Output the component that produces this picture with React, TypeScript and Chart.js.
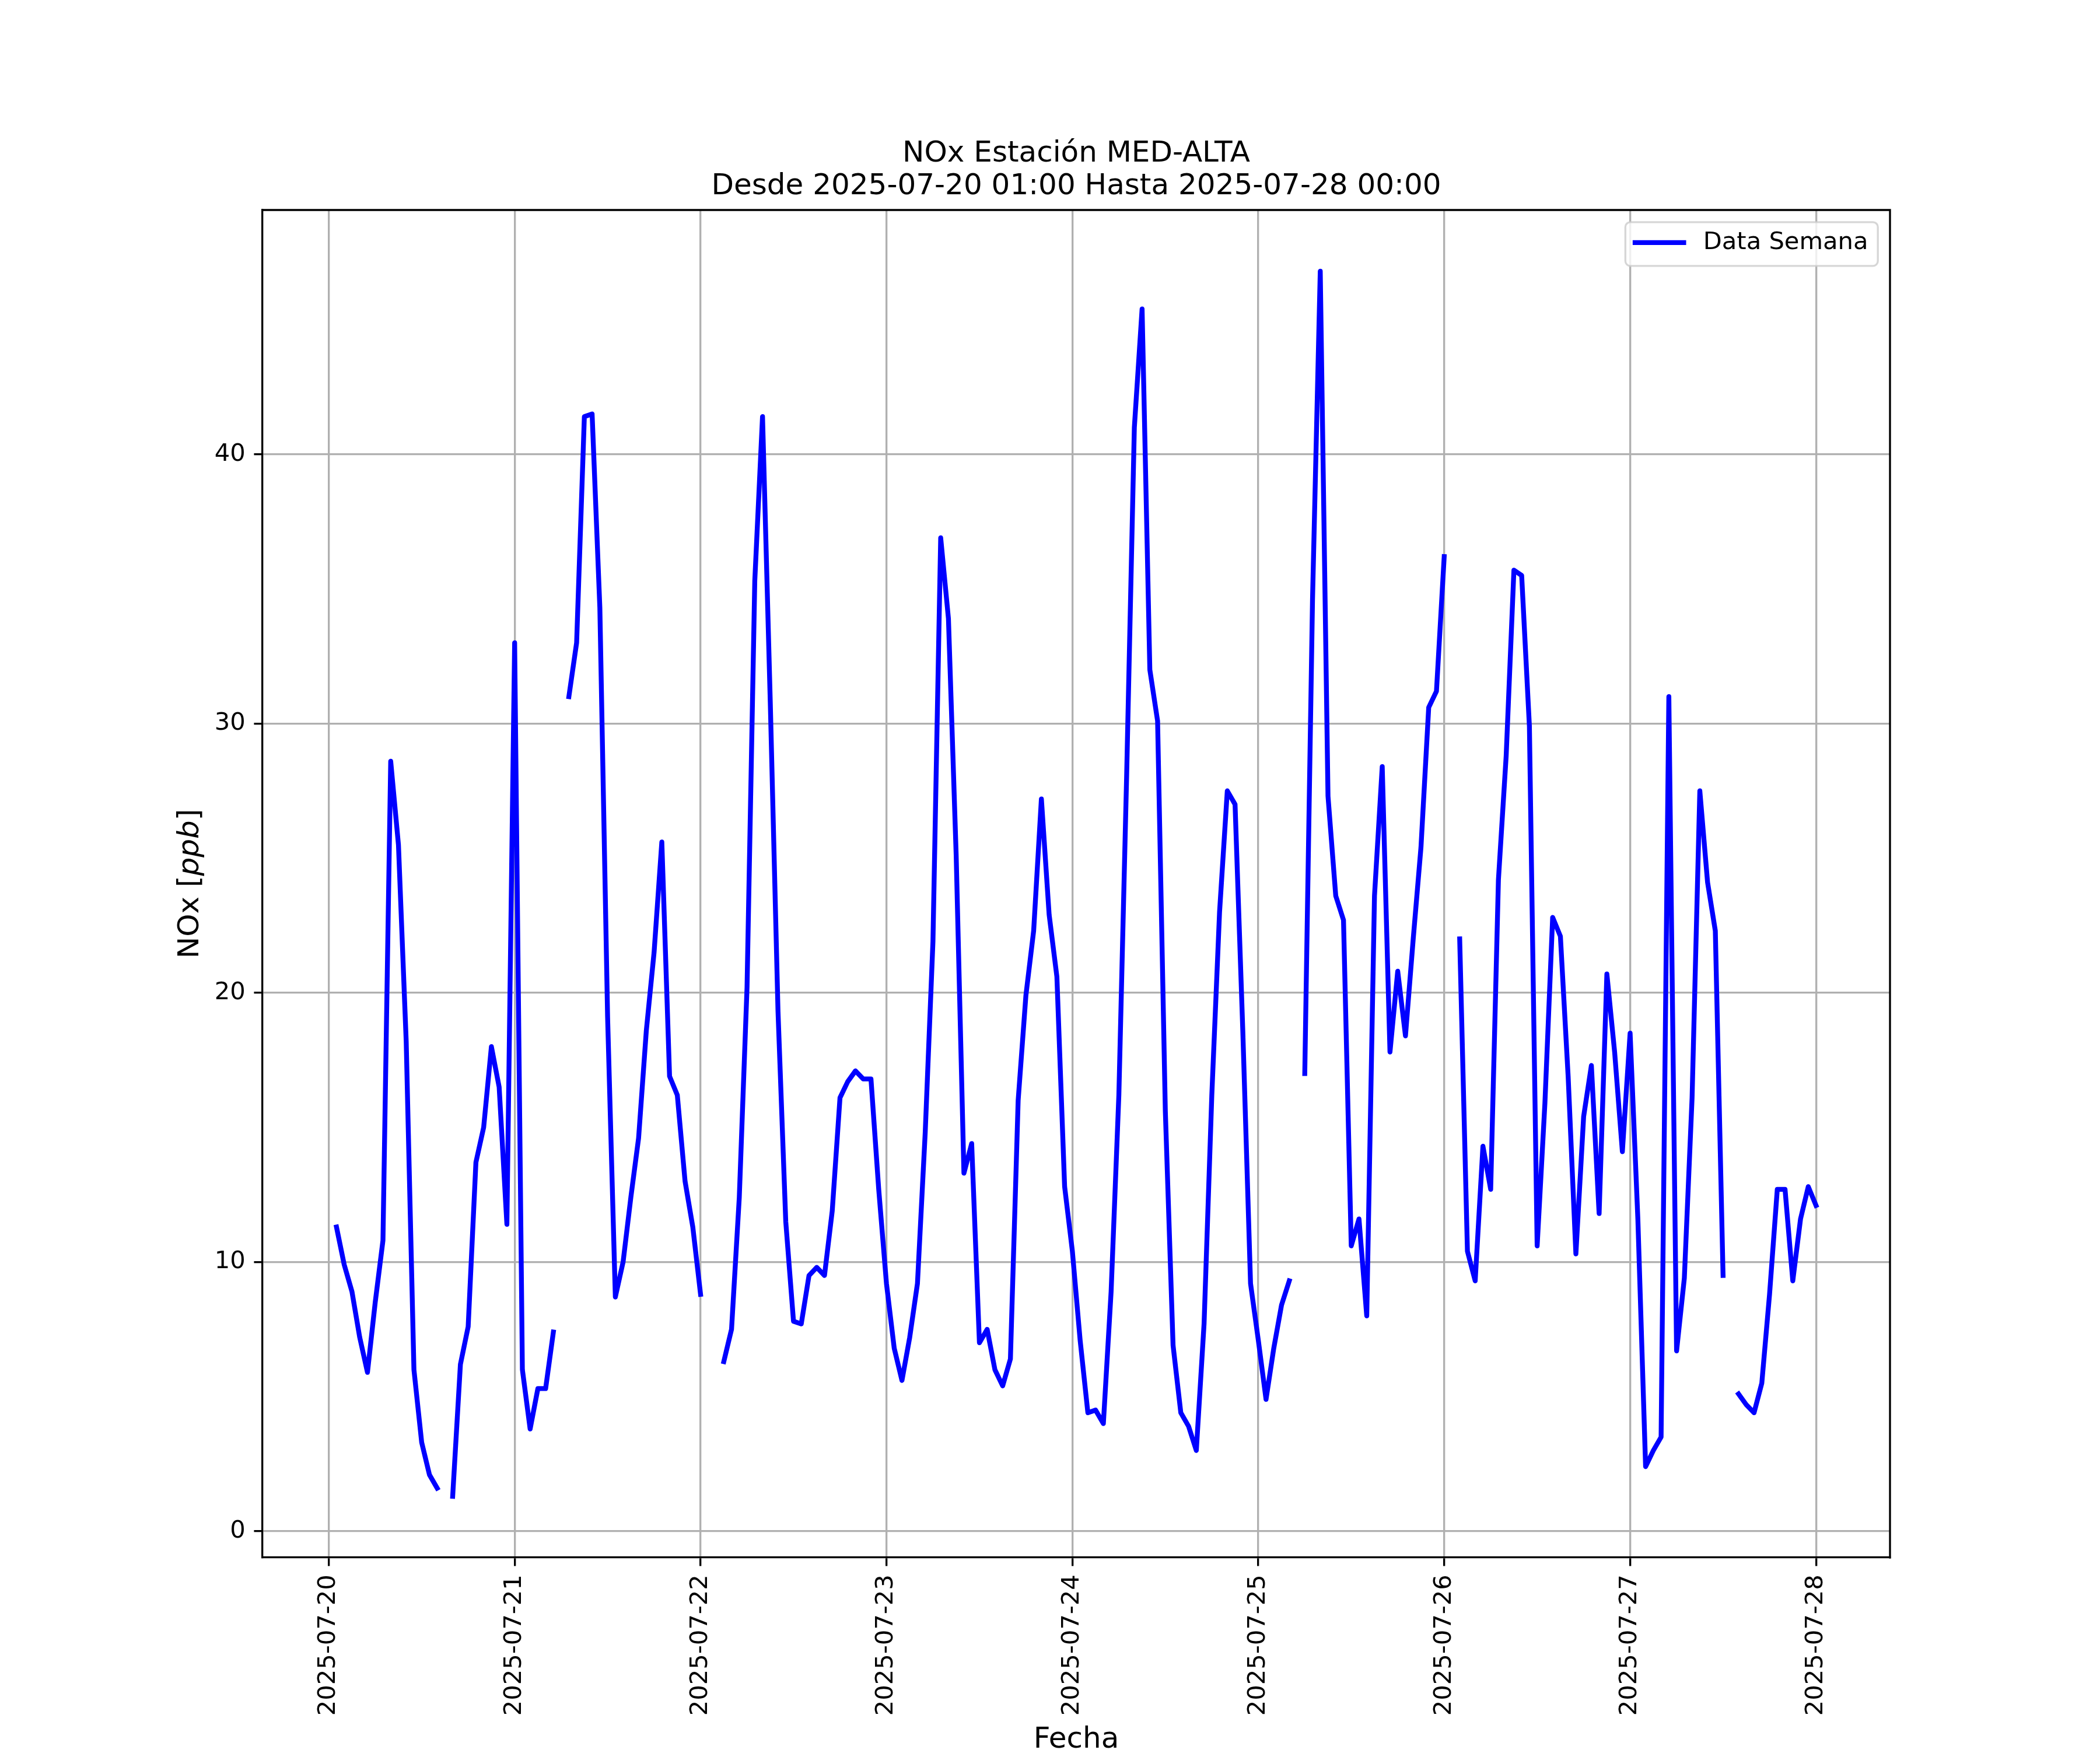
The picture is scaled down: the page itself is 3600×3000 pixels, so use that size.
import React, { useEffect, useRef } from 'react';
import { Chart, registerables } from 'chart.js';

Chart.register(...registerables);

// ---------- data ----------
const chartTitle = ['NOx Estación MED-ALTA', 'Desde 2025-07-20 01:00 Hasta 2025-07-28 00:00'];
const seriesLabel = 'Data Semana';
const xAxisTitle = 'Fecha';
const yAxisTitleParts = [
  { text: 'NOx [', italic: false },
  { text: 'ppb', italic: true },
  { text: ']', italic: false },
];

// hourly values, first one at 2025-07-20 01:00 (hour 1 after 2025-07-20 00:00)
const firstHour = 1;
const noxPpb: (number | null)[] = [
  11.3, 9.9, 8.9, 7.2, 5.9, 8.5, 10.8, 28.6, 25.5, 18.2, 6.0, 3.3,
  2.1, 1.6, null, 1.3, 6.2, 7.6, 13.7, 15.0, 18.0, 16.5, 11.4, 33.0,
  6.0, 3.8, 5.3, 5.3, 7.4, null, 31.0, 33.0, 41.4, 41.5, 34.3, 19.1,
  8.7, 10.0, 12.4, 14.6, 18.6, 21.5, 25.6, 16.9, 16.2, 13.0, 11.3, 8.8,
  null, null, 6.3, 7.5, 12.4, 20.2, 35.3, 41.4, 30.8, 19.3, 11.5, 7.8,
  7.7, 9.5, 9.8, 9.5, 11.9, 16.1, 16.7, 17.1, 16.8, 16.8, 12.7, 9.2,
  6.8, 5.6, 7.2, 9.2, 14.8, 21.9, 36.9, 33.9, 25.1, 13.3, 14.4, 7.0,
  7.5, 6.0, 5.4, 6.4, 16.0, 19.9, 22.3, 27.2, 22.9, 20.6, 12.8, 10.4,
  7.1, 4.4, 4.5, 4.0, 8.9, 16.2, 28.0, 41.0, 45.4, 32.0, 30.1, 15.6,
  6.9, 4.4, 3.9, 3.0, 7.7, 16.2, 23.0, 27.5, 27.0, 18.6, 9.2, 7.1,
  4.9, 6.8, 8.4, 9.3, null, 17.0, 34.6, 46.8, 27.3, 23.6, 22.7, 10.6,
  11.6, 8.0, 23.6, 28.4, 17.8, 20.8, 18.4, 22.0, 25.4, 30.6, 31.2, 36.2,
  null, 22.0, 10.4, 9.3, 14.3, 12.7, 24.2, 28.8, 35.7, 35.5, 29.9, 10.6,
  15.9, 22.8, 22.1, 16.9, 10.3, 15.4, 17.3, 11.8, 20.7, 17.8, 14.1, 18.5,
  11.6, 2.4, 3.0, 3.5, 31.0, 6.7, 9.4, 16.1, 27.5, 24.1, 22.3, 9.5,
  null, 5.1, 4.7, 4.4, 5.5, 8.8, 12.7, 12.7, 9.3, 11.6, 12.8, 12.1,
];

const dateTickLabels = [
  '2025-07-20', '2025-07-21', '2025-07-22', '2025-07-23', '2025-07-24',
  '2025-07-25', '2025-07-26', '2025-07-27', '2025-07-28',
];
const yTickValues = [0, 10, 20, 30, 40];

// ---------- styling ----------
const FONT = '"DejaVu Sans"';
const PT = 300 / 72; // px per point at 300 dpi

const frameSpinesPlugin = {
  id: 'frameSpines',
  afterDatasetsDraw(chart: any) {
    const { ctx, chartArea } = chart;
    const { left, right, top, bottom } = chartArea;
    ctx.save();
    ctx.strokeStyle = '#000000';
    ctx.lineWidth = 0.8 * PT;
    ctx.lineCap = 'square';
    ctx.beginPath();
    ctx.moveTo(left, top);
    ctx.lineTo(right, top);
    ctx.lineTo(right, bottom);
    ctx.stroke();
    ctx.restore();
  },
};

const legendBoxPlugin = {
  id: 'legendBox',
  afterDraw(chart: any) {
    const { ctx, chartArea } = chart;
    const ds = chart.data.datasets[0];
    const fs = 10 * PT;
    ctx.save();
    ctx.font = `${fs}px ${FONT}`;
    const tw = ctx.measureText(ds.label).width;
    const pad = 0.4 * fs;
    const handle = 2.0 * fs;
    const gap = 0.8 * fs;
    const axPad = 0.5 * fs;
    const w = pad + handle + gap + tw + pad;
    const h = 75;
    const right = chartArea.right - axPad;
    const top = chartArea.top + axPad;
    const left = right - w;
    ctx.beginPath();
    ctx.roundRect(left, top, w, h, 0.2 * fs);
    ctx.fillStyle = 'rgba(255,255,255,0.8)';
    ctx.fill();
    ctx.strokeStyle = 'rgba(204,204,204,0.8)';
    ctx.lineWidth = 0.8 * PT;
    ctx.stroke();
    const cy = top + 35;
    ctx.strokeStyle = ds.borderColor;
    ctx.lineWidth = ds.borderWidth;
    ctx.lineCap = 'square';
    ctx.beginPath();
    ctx.moveTo(left + pad, cy);
    ctx.lineTo(left + pad + handle, cy);
    ctx.stroke();
    ctx.fillStyle = '#000000';
    ctx.textAlign = 'left';
    ctx.textBaseline = 'middle';
    ctx.fillText(ds.label, left + pad + handle + gap, cy);
    ctx.restore();
  },
};

const yLabelPlugin = {
  id: 'yLabel',
  afterDraw(chart: any) {
    const { ctx, chartArea } = chart;
    const size = 12 * PT;
    ctx.save();
    const fonts = yAxisTitleParts.map((p) => `${p.italic ? 'italic ' : ''}${size}px ${FONT}`);
    const widths = yAxisTitleParts.map((p, i) => {
      ctx.font = fonts[i];
      return ctx.measureText(p.text).width;
    });
    const total = widths.reduce((a, b) => a + b, 0);
    const cy = (chartArea.top + chartArea.bottom) / 2;
    ctx.translate(chartArea.left - 110, cy);
    ctx.rotate(-Math.PI / 2);
    ctx.fillStyle = '#000000';
    ctx.textAlign = 'left';
    ctx.textBaseline = 'alphabetic';
    let x = -total / 2;
    yAxisTitleParts.forEach((p, i) => {
      ctx.font = fonts[i];
      ctx.fillText(p.text, x, 0);
      x += widths[i];
    });
    ctx.restore();
  },
};

export default function App() {
  const canvasRef = useRef<HTMLCanvasElement | null>(null);

  useEffect(() => {
    document.body.style.margin = '0';
    const canvas = canvasRef.current;
    if (!canvas) return;

    const points = noxPpb.map((v, i) => ({ x: firstHour + i, y: v }));
    const xs = points.map((p) => p.x);
    const ys = noxPpb.filter((v): v is number => v !== null);
    const xMin = Math.min(...xs);
    const xMax = Math.max(...xs);
    const yMin = Math.min(...ys);
    const yMax = Math.max(...ys);
    const xPad = (xMax - xMin) * 0.05;
    const yPad = (yMax - yMin) * 0.05;
    const tickHours = dateTickLabels.map((_, i) => i * 24);

    Chart.defaults.font.family = FONT;

    const tickFont = { family: FONT, size: 10 * PT };
    const gridCommon = {
      color: '#b0b0b0',
      lineWidth: 0.8 * PT,
      tickLength: 3.5 * PT,
      tickColor: '#000000',
      tickWidth: 0.8 * PT,
    };

    const chart = new Chart(canvas, {
      type: 'line',
      data: {
        datasets: [
          {
            label: seriesLabel,
            data: points as any,
            borderColor: '#0000ff',
            backgroundColor: '#0000ff',
            borderWidth: 2 * PT,
            pointRadius: 0,
            pointHoverRadius: 0,
            tension: 0,
            spanGaps: false,
            fill: false,
            borderCapStyle: 'square',
            borderJoinStyle: 'round',
          },
        ],
      },
      plugins: [frameSpinesPlugin, legendBoxPlugin, yLabelPlugin],
      options: {
        animation: false,
        responsive: false,
        devicePixelRatio: 1,
        events: [],
        layout: { padding: { top: 236, right: 360, bottom: 0, left: 0 } },
        plugins: {
          legend: { display: false },
          tooltip: { enabled: false },
          title: {
            display: true,
            text: chartTitle,
            fullSize: false,
            color: '#000000',
            font: { family: FONT, size: 12 * PT, weight: 'normal', lineHeight: 1.12 },
            padding: { top: 0, bottom: 12 },
          },
        },
        scales: {
          x: {
            type: 'linear',
            min: xMin - xPad,
            max: xMax + xPad,
            afterBuildTicks: (scale: any) => {
              scale.ticks = tickHours.map((v) => ({ value: v }));
            },
            afterFit: (scale: any) => {
              scale.height = 330;
            },
            ticks: {
              autoSkip: false,
              minRotation: 90,
              maxRotation: 90,
              padding: 3.5 * PT,
              color: '#000000',
              font: tickFont,
              callback: (value: any) => {
                const i = tickHours.indexOf(Number(value));
                return i >= 0 ? dateTickLabels[i] : '';
              },
            },
            grid: gridCommon,
            border: { display: true, color: '#000000', width: 0.8 * PT },
            title: {
              display: true,
              text: xAxisTitle,
              color: '#000000',
              font: { family: FONT, size: 12 * PT, lineHeight: 0.66 },
              padding: 0,
            },
          },
          y: {
            type: 'linear',
            min: yMin - yPad,
            max: yMax + yPad,
            afterBuildTicks: (scale: any) => {
              scale.ticks = yTickValues.map((v) => ({ value: v }));
            },
            afterFit: (scale: any) => {
              scale.width = 450;
            },
            ticks: {
              padding: 3.5 * PT,
              color: '#000000',
              font: tickFont,
              callback: (value: any) => String(value),
            },
            grid: gridCommon,
            border: { display: true, color: '#000000', width: 0.8 * PT },
            title: { display: false },
          },
        },
      } as any,
    });

    return () => {
      chart.destroy();
    };
  }, []);

  return (
    <canvas
      ref={canvasRef}
      width={3600}
      height={3000}
      style={{ display: 'block', width: '3600px', height: '3000px' }}
    />
  );
}
